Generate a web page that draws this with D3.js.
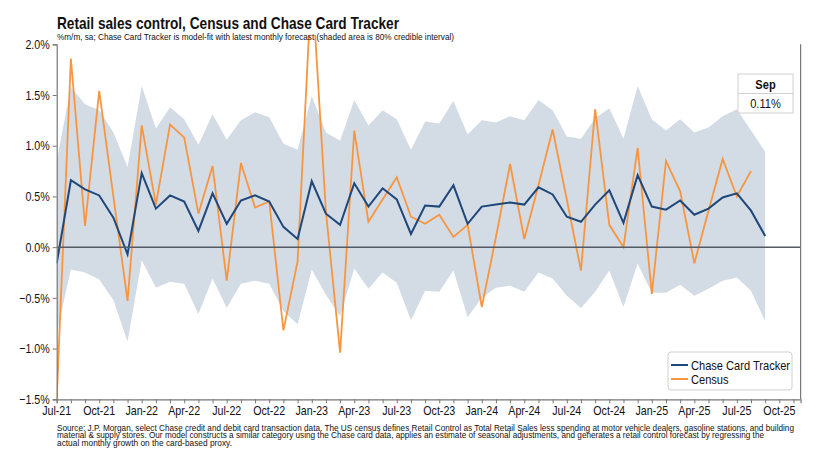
<!DOCTYPE html>
<html>
<head>
<meta charset="utf-8">
<script src="https://cdn.jsdelivr.net/npm/d3@7/dist/d3.min.js"></script>
<style>
  html, body { margin: 0; padding: 0; background: #fff; }
  svg { display: block; }
  text { font-family: "Liberation Sans", Arial, sans-serif; fill: #111; }
</style>
</head>
<body>
<svg id="chart" width="817" height="465"></svg>
<script>
// ---------------- DATA ----------------
const months = ["Jul-21","Aug-21","Sep-21","Oct-21","Nov-21","Dec-21",
  "Jan-22","Feb-22","Mar-22","Apr-22","May-22","Jun-22","Jul-22","Aug-22","Sep-22","Oct-22","Nov-22","Dec-22",
  "Jan-23","Feb-23","Mar-23","Apr-23","May-23","Jun-23","Jul-23","Aug-23","Sep-23","Oct-23","Nov-23","Dec-23",
  "Jan-24","Feb-24","Mar-24","Apr-24","May-24","Jun-24","Jul-24","Aug-24","Sep-24","Oct-24","Nov-24","Dec-24",
  "Jan-25","Feb-25","Mar-25","Apr-25","May-25","Jun-25","Jul-25","Aug-25","Sep-25"];

const tracker = [-0.16,0.66,0.57,0.51,0.29,-0.07,
  0.73,0.38,0.51,0.45,0.16,0.53,0.23,0.46,0.51,0.45,0.20,0.08,
  0.65,0.33,0.22,0.63,0.40,0.58,0.47,0.13,0.41,0.40,0.61,0.23,
  0.40,0.42,0.44,0.42,0.59,0.52,0.30,0.25,0.42,0.56,0.24,0.71,
  0.40,0.37,0.46,0.32,0.38,0.49,0.53,0.36,0.11];

const census = [-1.50,1.86,0.21,1.54,0.50,-0.53,
  1.20,0.42,1.21,1.08,0.33,0.80,-0.33,0.83,0.39,0.45,-0.82,-0.14,
  2.65,0.35,-1.04,1.15,0.25,0.47,0.69,0.30,0.23,0.32,0.10,0.22,
  -0.59,0.10,0.82,0.08,0.61,1.16,0.47,-0.23,1.36,0.22,0.00,0.98,
  -0.46,0.85,0.55,-0.16,0.36,0.87,0.50,0.75];

const bandUpper = [0.85,1.58,1.41,1.35,1.13,0.79,
  1.59,1.17,1.38,1.26,1.01,1.31,1.06,1.25,1.33,1.28,1.02,0.96,
  1.49,1.13,1.05,1.45,1.20,1.35,1.26,0.96,1.24,1.22,1.44,1.11,
  1.25,1.23,1.29,1.25,1.45,1.35,1.09,1.07,1.27,1.37,1.07,1.59,
  1.26,1.15,1.26,1.13,1.18,1.29,1.36,1.15,0.94];

const bandLower = [-0.85,-0.22,-0.25,-0.32,-0.52,-0.93,
  -0.13,-0.40,-0.34,-0.36,-0.66,-0.31,-0.60,-0.36,-0.33,-0.36,-0.63,-0.76,
  -0.22,-0.47,-0.68,-0.21,-0.41,-0.25,-0.35,-0.72,-0.43,-0.44,-0.23,-0.69,
  -0.50,-0.40,-0.38,-0.44,-0.25,-0.31,-0.48,-0.60,-0.44,-0.23,-0.59,-0.16,
  -0.45,-0.45,-0.37,-0.48,-0.41,-0.33,-0.30,-0.43,-0.73];

const yTicks = [-1.5,-1.0,-0.5,0.0,0.5,1.0,1.5,2.0];
const xTickLabels = ["Jul-21","Oct-21","Jan-22","Apr-22","Jul-22","Oct-22","Jan-23","Apr-23","Jul-23",
  "Oct-23","Jan-24","Apr-24","Jul-24","Oct-24","Jan-25","Apr-25","Jul-25","Oct-25"];
const seriesNames = ["Chase Card Tracker","Census"];
const latestLabel = "Sep";
const latestValue = "0.11%";

const title = "Retail sales control, Census and Chase Card Tracker";
const subtitle = "%m/m, sa; Chase Card Tracker is model-fit with latest monthly forecast (shaded area is 80% credible interval)";
const footnote = [
  "Source: J.P. Morgan, select Chase credit and debit card transaction data. The US census defines Retail Control as Total Retail Sales less spending at motor vehicle dealers, gasoline stations, and building",
  "material & supply stores. Our model constructs a similar category using the Chase card data, applies an estimate of seasonal adjustments, and generates a retail control forecast by regressing the",
  "actual monthly growth on the card-based proxy."
];

// ---------------- CHART ----------------
const svg = d3.select("#chart");
const C_TRACK = "#1f477a", C_CENSUS = "#f7963f", C_BAND = "#d3dbe5";
const NARROW = 0.82;

// horizontally compress text (narrow-font look)
function squeeze(sel, factor) {
  sel.each(function() {
    const w = this.getComputedTextLength();
    d3.select(this).attr("textLength", w * factor).attr("lengthAdjust", "spacingAndGlyphs");
  });
}
function fitTo(sel, width) {
  sel.attr("textLength", width).attr("lengthAdjust", "spacingAndGlyphs");
}

const x = d3.scaleLinear().domain([0, 52.5]).range([56.7, 800.6]);
const y = d3.scaleLinear().domain([-1.5, 2.0]).range([399.3, 44.3]);
const labelIdx = lab => {
  const mNames = ["Jan","Feb","Mar","Apr","May","Jun","Jul","Aug","Sep","Oct","Nov","Dec"];
  const [mm, yy] = lab.split("-");
  return (+yy - 21) * 12 + mNames.indexOf(mm) - 6;
};

svg.append("defs").append("clipPath").attr("id", "clip")
  .append("rect").attr("x", x(0)).attr("y", 35)
  .attr("width", x(52.5) - x(0)).attr("height", y(-1.5) - 35);

const plot = svg.append("g").attr("clip-path", "url(#clip)");

// band
const area = d3.area()
  .x((d, i) => x(i))
  .y0((d, i) => y(bandLower[i]))
  .y1((d, i) => y(bandUpper[i]));
plot.append("path").datum(bandUpper).attr("d", area).attr("fill", C_BAND);

// zero line
svg.append("line").attr("x1", x(0)).attr("x2", x(52.5))
  .attr("y1", y(0)).attr("y2", y(0))
  .attr("stroke", "#555b66").attr("stroke-width", 1.5);

const line = d3.line().x((d, i) => x(i)).y(d => y(d));
plot.append("path").datum(census).attr("d", line)
  .attr("fill", "none").attr("stroke", C_CENSUS).attr("stroke-width", 1.8);
plot.append("path").datum(tracker).attr("d", line)
  .attr("fill", "none").attr("stroke", C_TRACK).attr("stroke-width", 2);

// axes
const yAxis = d3.axisLeft(y).tickValues(yTicks).tickSize(4).tickPadding(3)
  .tickFormat(d => d3.format(".1f")(d) + "%");
const gy = svg.append("g").attr("transform", `translate(${x(0)},0)`).call(yAxis);
gy.select(".domain").attr("stroke", "#777").attr("stroke-width", 1.2);
gy.selectAll(".tick line").attr("stroke", "#777");
gy.selectAll("text").style("font-size", "13px").style("font-family", null).attr("fill", "#111");
squeeze(gy.selectAll("text"), NARROW);

const xAxis = d3.axisBottom(x).tickValues(d3.range(0, 53)).tickSize(4).tickFormat("");
const gx = svg.append("g").attr("transform", `translate(0,${y(-1.5)})`).call(xAxis);
gx.select(".domain").attr("stroke", "#777").attr("stroke-width", 1.2);
gx.selectAll(".tick line").attr("stroke", "#777");
const xl = gx.selectAll(".lbl").data(xTickLabels).enter().append("text")
  .attr("class", "lbl")
  .attr("x", d => x(labelIdx(d))).attr("y", 16)
  .attr("text-anchor", "middle").style("font-size", "13px").text(d => d);
squeeze(xl, NARROW);

// right border
svg.append("line").attr("x1", x(52.5)).attr("x2", x(52.5))
  .attr("y1", y(2.0)).attr("y2", y(-1.5))
  .attr("stroke", "#777").attr("stroke-width", 1.2);

// titles
fitTo(svg.append("text").attr("x", 57).attr("y", 28.5).text(title)
  .style("font-size", "17px").style("font-weight", "bold"), 342);
fitTo(svg.append("text").attr("x", 57).attr("y", 40).text(subtitle)
  .style("font-size", "9px"), 397);

// footnote
const fnW = [737, 707, 175];
svg.selectAll(".fn").data(footnote).enter().append("text")
  .attr("class", "fn").attr("x", 57).attr("y", (d, i) => 430.5 + i * 7.8)
  .style("font-size", "8.2px").text(d => d)
  .attr("textLength", (d, i) => fnW[i]).attr("lengthAdjust", "spacingAndGlyphs");

// legend
const lg = svg.append("g").attr("transform", "translate(668,352)");
lg.append("rect").attr("width", 124).attr("height", 38).attr("rx", 3)
  .attr("fill", "#fff").attr("stroke", "#d0d0d0");
const lcol = [C_TRACK, C_CENSUS];
seriesNames.forEach((s, i) => {
  lg.append("line").attr("x1", 3).attr("x2", 20)
    .attr("y1", 13 + i * 14).attr("y2", 13 + i * 14)
    .attr("stroke", lcol[i]).attr("stroke-width", 2);
  squeeze(lg.append("text").attr("x", 23).attr("y", 17.5 + i * 14)
    .style("font-size", "13.5px").text(s), NARROW);
});

// latest box
const lb = svg.append("g").attr("transform", "translate(738,74)");
lb.append("rect").attr("width", 55).attr("height", 39)
  .attr("fill", "#fff").attr("stroke", "#d0d0d0");
lb.append("line").attr("x1", 0).attr("x2", 55).attr("y1", 19.5).attr("y2", 19.5)
  .attr("stroke", "#d0d0d0");
squeeze(lb.append("text").attr("x", 27.5).attr("y", 14.5).attr("text-anchor", "middle")
  .style("font-size", "13.5px").style("font-weight", "bold").text(latestLabel), NARROW);
squeeze(lb.append("text").attr("x", 27.5).attr("y", 34).attr("text-anchor", "middle")
  .style("font-size", "13.5px").text(latestValue), NARROW);
</script>
</body>
</html>
